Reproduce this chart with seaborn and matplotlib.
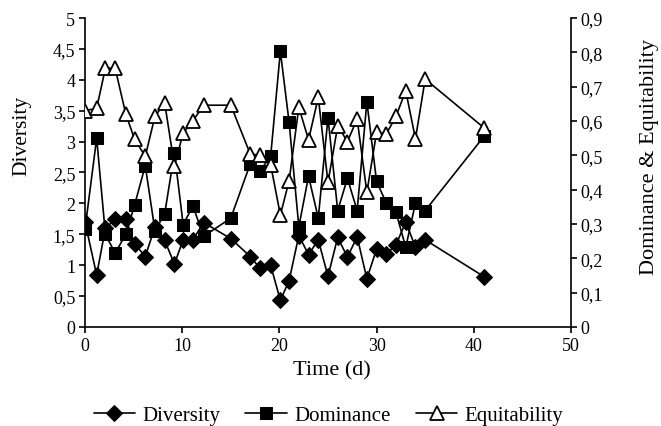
import matplotlib
matplotlib.use("Agg")
import matplotlib.pyplot as plt
import seaborn as sns
import pandas as pd
from matplotlib.ticker import FuncFormatter, MultipleLocator

# ---- data ----
time_d = [0, 1.2, 2.1, 3.1, 4.2, 5.1, 6.2, 7.2, 8.2, 9.2, 10.1, 11.1, 12.2, 15,
          17, 18, 19.1, 20.1, 21, 22, 23, 24, 25, 26, 27, 28, 29, 30, 31, 32,
          33, 34, 35, 41.1]
diversity = [1.70, 0.84, 1.60, 1.74, 1.74, 1.35, 1.14, 1.62, 1.40, 1.02, 1.41,
             1.41, 1.69, 1.43, 1.14, 0.95, 1.00, 0.43, 0.75, 1.48, 1.17, 1.41,
             0.82, 1.45, 1.13, 1.46, 0.78, 1.26, 1.18, 1.33, 1.70, 1.29, 1.41,
             0.81]
dominance = [0.285, 0.55, 0.27, 0.215, 0.27, 0.355, 0.47, 0.28, 0.33, 0.507,
             0.298, 0.353, 0.264, 0.317, 0.475, 0.455, 0.497, 0.803, 0.596,
             0.292, 0.439, 0.317, 0.61, 0.339, 0.433, 0.339, 0.656, 0.424,
             0.361, 0.334, 0.232, 0.361, 0.339, 0.557]
equitability = [0.63, 0.637, 0.754, 0.754, 0.62, 0.547, 0.497, 0.614, 0.652,
                0.47, 0.565, 0.60, 0.646, 0.646, 0.504, 0.50, 0.473, 0.326,
                0.426, 0.64, 0.545, 0.669, 0.421, 0.586, 0.54, 0.606, 0.392,
                0.567, 0.562, 0.614, 0.688, 0.548, 0.722, 0.579]

df = pd.DataFrame({"time": time_d, "Diversity": diversity,
                   "Dominance": dominance, "Equitability": equitability})

sns.set_style("ticks")
plt.rcParams["font.family"] = ["Liberation Serif", "DejaVu Serif"]
plt.rcParams["text.color"] = "black"
plt.rcParams["axes.labelcolor"] = "black"
plt.rcParams["xtick.color"] = "black"
plt.rcParams["ytick.color"] = "black"
plt.rcParams["axes.edgecolor"] = "black"

fig = plt.figure(figsize=(6.61, 4.27), dpi=100)
ax = fig.add_axes([0.1286, 0.2319, 0.7352, 0.7236])
ax2 = ax.twinx()

lw = 1.2
sns.lineplot(data=df, x="time", y="Diversity", ax=ax, color="black",
             marker="D", markersize=8.5, markeredgecolor="black",
             markerfacecolor="black", linewidth=lw, label="Diversity")
sns.lineplot(data=df, x="time", y="Dominance", ax=ax2, color="black",
             marker="s", markersize=8, markeredgecolor="black",
             markerfacecolor="black", linewidth=lw, label="Dominance")
sns.lineplot(data=df, x="time", y="Equitability", ax=ax2, color="black",
             marker="^", markersize=9.5, markeredgecolor="black",
             markeredgewidth=1.3, markerfacecolor="white", linewidth=lw,
             label="Equitability")

ax.set_xlim(0, 50)
ax.set_ylim(0, 5)
ax2.set_ylim(0, 0.9)
ax.xaxis.set_major_locator(MultipleLocator(10))
ax.yaxis.set_major_locator(MultipleLocator(0.5))
ax2.yaxis.set_major_locator(MultipleLocator(0.1))

comma = FuncFormatter(lambda v, p: ("%g" % round(v, 2)).replace(".", ","))
ax.yaxis.set_major_formatter(comma)
ax2.yaxis.set_major_formatter(comma)

for a in (ax, ax2):
    a.spines["top"].set_visible(False)
    for s in a.spines.values():
        s.set_linewidth(1.2)
    a.tick_params(labelsize=13, width=1.2, length=4, pad=3)
ax.spines["right"].set_visible(False)
ax2.spines["left"].set_visible(False)
ax2.spines["bottom"].set_visible(False)

ax.set_xlabel("Time (d)", fontsize=16)
ax.set_ylabel("Diversity", fontsize=15.5)
ax2.set_ylabel("Dominance & Equitability", fontsize=16)
ax.xaxis.set_label_coords(0.508, -0.108)
ax.yaxis.set_label_coords(-0.110, 0.62)
ax2.yaxis.set_label_coords(1.142, 0.552)

h1, l1 = ax.get_legend_handles_labels()
h2, l2 = ax2.get_legend_handles_labels()
for a in (ax, ax2):
    if a.get_legend() is not None:
        a.get_legend().remove()
fig.legend(h1 + h2, l1 + l2, loc="lower center", bbox_to_anchor=(0.497, 0.0),
           borderaxespad=0.0, borderpad=0.05,
           ncol=3, frameon=False, fontsize=15, handlelength=2.0,
           handletextpad=0.35, columnspacing=1.2)

fig.savefig("out.png", dpi=100)
